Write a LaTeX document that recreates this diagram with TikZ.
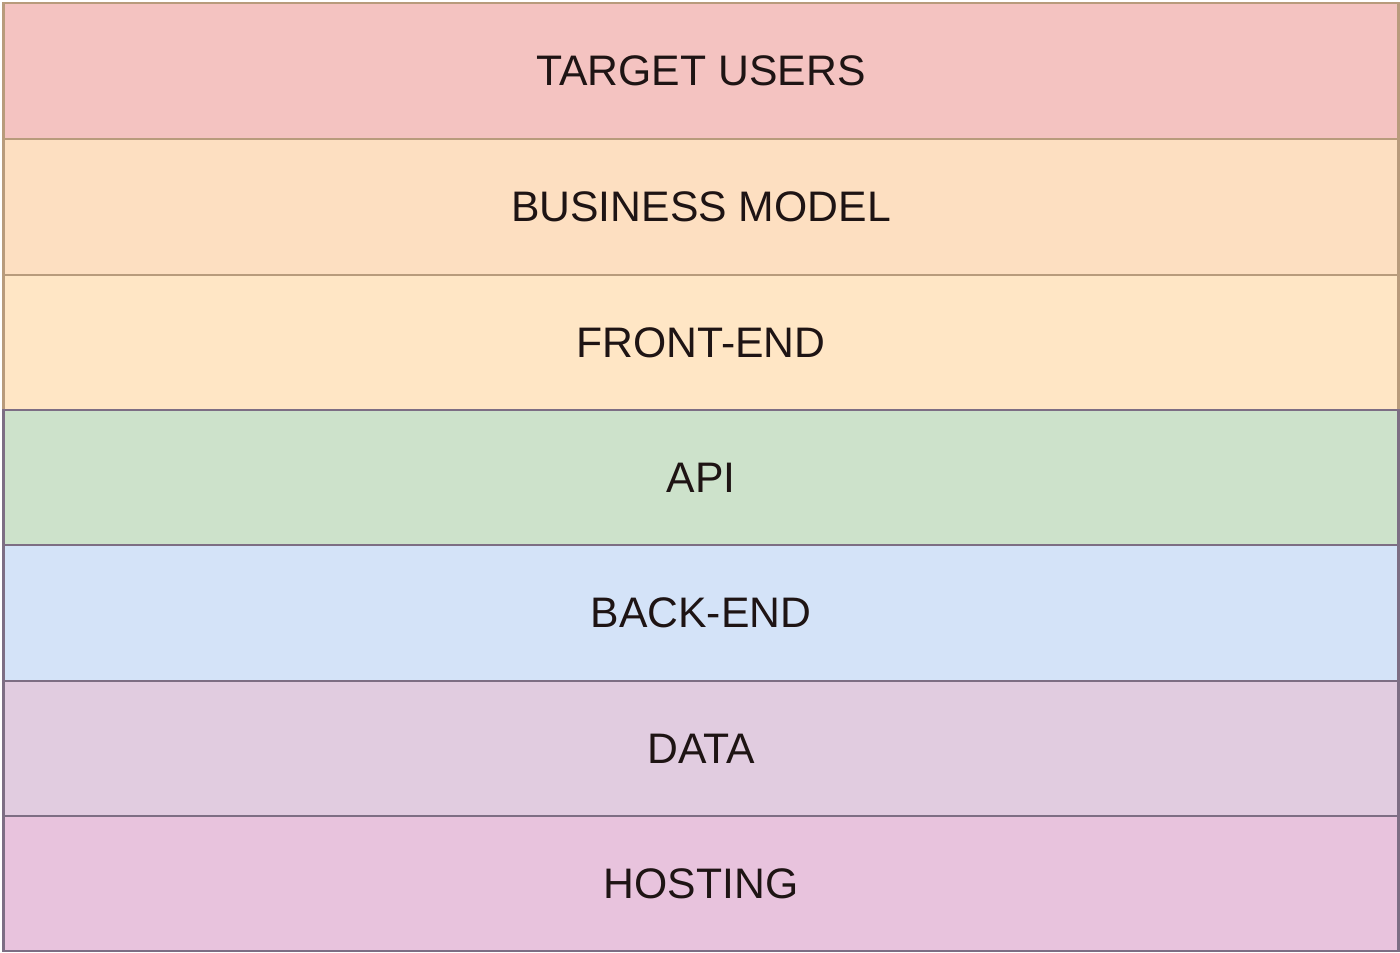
\documentclass[tikz,border=0pt]{standalone}
\usepackage{fontspec}
\setmainfont{Liberation Sans}
\usepackage{xcolor}
\definecolor{usersfill}{HTML}{F4C3C1}
\definecolor{businessfill}{HTML}{FDDFC1}
\definecolor{frontfill}{HTML}{FFE6C5}
\definecolor{apifill}{HTML}{CDE2CB}
\definecolor{backfill}{HTML}{D4E3F8}
\definecolor{datafill}{HTML}{E1CCE0}
\definecolor{hostfill}{HTML}{E8C3DD}
\definecolor{brownline}{HTML}{B89B7C}
\definecolor{greyline}{HTML}{7D6E84}
\definecolor{textcol}{HTML}{1E1414}

\begin{document}
\begin{tikzpicture}[layer/.style={rectangle, draw=greyline, line width=0.6pt, minimum width=13.95cm, minimum height=1.355cm, inner sep=0pt, text=textcol, font=\fontsize{12.15}{14}\selectfont}]
            \useasboundingbox (0,0) rectangle (14,9.53);
            \node[layer, fill=usersfill, draw=brownline] (users) at (7.01,8.82) {TARGET USERS};
            \node[layer, fill=businessfill, draw=brownline] (business) at (7.01,7.46) {BUSINESS MODEL};
            \node[layer, fill=frontfill, draw=brownline] (front) at (7.01,6.105) {FRONT-END};
            \node[layer, fill=apifill] (api) at (7.01,4.755) {API};
            \node[layer, fill=backfill] (back) at (7.01,3.40) {BACK-END};
            \node[layer, fill=datafill] (data) at (7.01,2.045) {DATA};
            \node[layer, fill=hostfill] (hosting) at (7.01,0.695) {HOSTING};

        \end{tikzpicture}
\end{document}
